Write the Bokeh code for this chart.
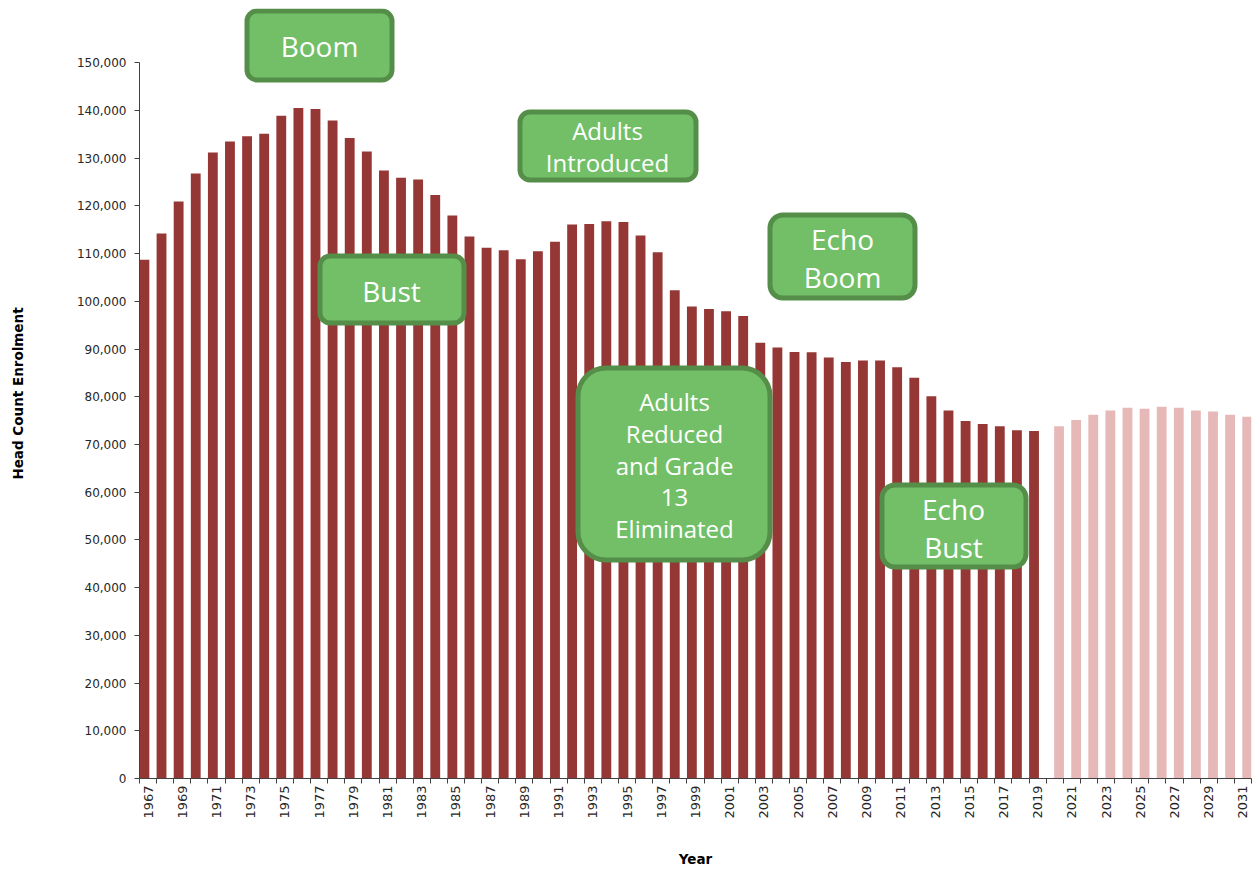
import math
from bokeh.plotting import figure
from bokeh.models import BoxAnnotation, Label, FixedTicker, NumeralTickFormatter, Range1d
from bokeh.embed import file_html
from bokeh.resources import INLINE

# ---------------- data ----------------
hist_years = list(range(1967, 2020))
hist_values = [108700, 114200, 120900, 126800, 131200, 133500, 134600, 135100, 138900, 140500,
               140300, 137900, 134200, 131400, 127400, 125900, 125500, 122300, 118000, 113600,
               111200, 110700, 108800, 110500, 112500, 116100, 116200, 116800, 116600, 113800,
               110300, 102300, 98900, 98400, 97900, 96900, 91300, 90300, 89400, 89300,
               88200, 87300, 87600, 87600, 86200, 84000, 80100, 77100, 74900, 74300,
               73800, 73000, 72800]
proj_years = list(range(2020, 2032))
proj_values = [73800, 75100, 76200, 77100, 77700, 77500, 77900, 77700, 77100, 76900, 76200, 75800]

label_years = list(range(1967, 2032, 2))
y_ticks = list(range(0, 150001, 10000))

annotations = [
    (["Boom"], 28),
    (["Adults", "Introduced"], 24),
    (["Bust"], 28),
    (["Echo", "Boom"], 28),
    (["Adults", "Reduced", "and Grade", "13", "Eliminated"], 24),
    (["Echo", "Bust"], 28),
]

# ---------------- layout (pixels of the page) ----------------
W, H = 1259, 870
BORDER_L, BORDER_R, BORDER_T, BORDER_B = 139, 8, 8, 92
FRAME_W = W - BORDER_L - BORDER_R
FRAME_H = H - BORDER_T - BORDER_B
X0, X1 = 1966.5, 2031.5
Y_END = 150000 * FRAME_H / 715.8

def dx(px):
    return X0 + (px - BORDER_L) / FRAME_W * (X1 - X0)

def dy(py):
    return (BORDER_T + FRAME_H - py) / FRAME_H * Y_END

# box outer extents (left, right, top, bottom), radius, line centres, text x centre
box_geom = [
    ((244, 394, 8, 82), 10, [45], 319),
    ((517, 698, 109, 182), 10, [130, 162], 607),
    ((317, 466, 253, 325), 10, [290], 391),
    ((767, 917, 212, 300), 13, [238, 276], 842),
    ((575, 772, 365, 562), 28, [401, 433, 465, 497, 528], 674),
    ((879, 1028, 482, 569), 13, [508, 546], 953),
]

p = figure(width=W, height=H, output_backend="svg", toolbar_location=None,
           x_range=Range1d(X0, X1), y_range=Range1d(0, Y_END),
           min_border_left=BORDER_L, min_border_right=BORDER_R,
           min_border_top=BORDER_T, min_border_bottom=BORDER_B)
p.outline_line_color = None
p.grid.visible = False
p.background_fill_color = "white"
p.border_fill_color = "white"

BW = 0.575
p.vbar(x=[y - 0.5 + BW / 2 for y in hist_years], top=hist_values, width=BW, bottom=0,
       fill_color="#953735", line_color=None)
p.vbar(x=[y + 0.25 for y in proj_years], top=proj_values, width=BW, bottom=0,
       fill_color="#E6B9B8", line_color=None)

# axes
xa = p.xaxis[0]
xa.ticker = FixedTicker(ticks=label_years,
                        minor_ticks=[y - 0.5 for y in range(1967, 2033)])
xa.major_tick_out = 0
xa.major_tick_in = 0
xa.minor_tick_out = 5
xa.minor_tick_in = 0
xa.minor_tick_line_color = "#404040"
xa.axis_line_color = "#404040"
xa.major_label_orientation = math.pi / 2
xa.major_label_standoff = 2
xa.major_label_text_font = "DejaVu Sans"
xa.major_label_text_font_size = "13px"
xa.major_label_text_color = "#262626"
xa.axis_label = "Year"
xa.axis_label_text_font = "DejaVu Sans"
xa.axis_label_text_font_style = "bold"
xa.axis_label_text_font_size = "13.5px"
xa.axis_label_text_color = "black"
xa.axis_label_standoff = 29

ya = p.yaxis[0]
ya.ticker = FixedTicker(ticks=y_ticks)
ya.bounds = (0, 150000)
ya.formatter = NumeralTickFormatter(format="0,0")
ya.major_tick_out = 5
ya.major_tick_in = 0
ya.minor_tick_out = 0
ya.minor_tick_in = 0
ya.major_tick_line_color = "#404040"
ya.axis_line_color = "#404040"
ya.major_label_standoff = 8
ya.major_label_text_font = "DejaVu Sans"
ya.major_label_text_font_size = "12px"
ya.major_label_text_color = "#262626"
ya.axis_label = "Head Count Enrolment"
ya.axis_label_text_font = "DejaVu Sans"
ya.axis_label_text_font_style = "bold"
ya.axis_label_text_font_size = "13.5px"
ya.axis_label_text_color = "black"
ya.axis_label_standoff = 48

# annotation boxes
LW = 5
for (lines, size), ((l, r, t, b), rad, ys, xc) in zip(annotations, box_geom):
    p.add_layout(BoxAnnotation(left=dx(l + LW / 2), right=dx(r - LW / 2),
                               top=dy(t + LW / 2), bottom=dy(b - LW / 2),
                               fill_color="#72BF68", fill_alpha=1.0,
                               line_color="#548E48", line_width=LW, line_alpha=1.0,
                               border_radius=rad))
    for txt, yc in zip(lines, ys):
        p.add_layout(Label(x=dx(xc), y=dy(yc), text=txt, text_align="center",
                           text_baseline="middle", text_font="Open Sans",
                           text_font_size=f"{size}px", text_color="white"))

open("out.html", "w").write(file_html(p, INLINE))
